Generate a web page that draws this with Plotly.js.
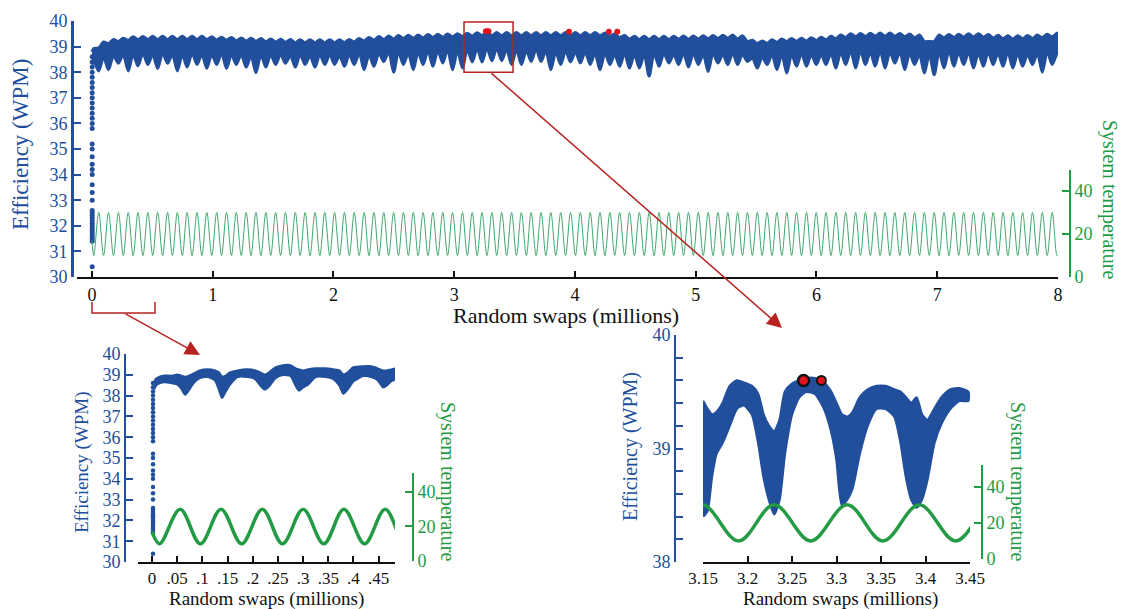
<!DOCTYPE html>
<html><head><meta charset="utf-8">
<script src="https://cdn.plot.ly/plotly-3.0.1.min.js"></script>
<style>html,body{margin:0;padding:0;background:#fff}#chart{width:1121px;height:609px}</style>
</head><body><div id="chart"></div>
<script>
// ---------------- DATA ----------------
// System temperature: extrema of the oscillation (millions of swaps, temperature)
const tempX = [0,
 0.015,0.056,0.096,0.137,0.178,0.219,0.259,0.300,0.341,0.381,
 0.422,0.463,0.503,0.544,0.585,0.626,0.666,0.707,0.748,0.788,
 0.829,0.870,0.910,0.951,0.992,1.033,1.073,1.114,1.155,1.195,
 1.236,1.277,1.317,1.358,1.399,1.440,1.480,1.521,1.562,1.602,
 1.643,1.684,1.724,1.765,1.806,1.847,1.887,1.928,1.969,2.009,
 2.050,2.091,2.131,2.172,2.213,2.254,2.294,2.335,2.376,2.416,
 2.457,2.498,2.538,2.579,2.620,2.661,2.701,2.742,2.783,2.823,
 2.864,2.905,2.945,2.986,3.027,3.068,3.108,3.149,3.190,3.230,
 3.271,3.312,3.352,3.393,3.434,3.475,3.515,3.556,3.597,3.637,
 3.678,3.719,3.759,3.800,3.841,3.882,3.922,3.963,4.004,4.044,
 4.085,4.126,4.166,4.207,4.248,4.289,4.329,4.370,4.411,4.451,
 4.492,4.533,4.573,4.614,4.655,4.696,4.736,4.777,4.818,4.858,
 4.899,4.940,4.980,5.021,5.062,5.103,5.143,5.184,5.225,5.265,
 5.306,5.347,5.387,5.428,5.469,5.510,5.550,5.591,5.632,5.672,
 5.713,5.754,5.794,5.835,5.876,5.917,5.957,5.998,6.039,6.079,
 6.120,6.161,6.201,6.242,6.283,6.324,6.364,6.405,6.446,6.486,
 6.527,6.568,6.608,6.649,6.690,6.731,6.771,6.812,6.853,6.893,
 6.934,6.975,7.015,7.056,7.097,7.138,7.178,7.219,7.260,7.300,
 7.341,7.382,7.422,7.463,7.504,7.545,7.585,7.626,7.667,7.707,
 7.748,7.789,7.829,7.870,7.911,7.952,7.992,
 8.0];
const tempY = [17,
 10,30,10,30,10,30,10,30,10,30,
 10,30,10,30,10,30,10,30,10,30,
 10,30,10,30,10,30,10,30,10,30,
 10,30,10,30,10,30,10,30,10,30,
 10,30,10,30,10,30,10,30,10,30,
 10,30,10,30,10,30,10,30,10,30,
 10,30,10,30,10,30,10,30,10,30,
 10,30,10,30,10,30,10,30,10,30,
 10,30,10,30,10,30,10,30,10,30,
 10,30,10,30,10,30,10,30,10,30,
 10,30,10,30,10,30,10,30,10,30,
 10,30,10,30,10,30,10,30,10,30,
 10,30,10,30,10,30,10,30,10,30,
 10,30,10,30,10,30,10,30,10,30,
 10,30,10,30,10,30,10,30,10,30,
 10,30,10,30,10,30,10,30,10,30,
 10,30,10,30,10,30,10,30,10,30,
 10,30,10,30,10,30,10,30,10,30,
 10,30,10,30,10,30,10,30,10,30,
 10,30,10,30,10,30,10,
 10.3];

// Efficiency, full run. Upper edge of the cloud at each temperature minimum
const effTopHi = [
 38.93,39.18,39.28,39.33,39.38,39.39,39.40,39.40,39.40,39.40,
 39.40,39.40,39.38,39.37,39.36,39.34,39.33,39.32,39.30,39.29,
 39.28,39.27,39.27,39.27,39.27,39.27,39.28,39.32,39.36,39.39,
 39.41,39.43,39.44,39.45,39.47,39.48,39.49,39.50,39.52,39.54,
 39.56,39.55,39.55,39.55,39.55,39.55,39.55,39.55,39.55,39.55,
 39.55,39.55,39.53,39.50,39.43,39.40,39.40,39.40,39.40,39.40,
 39.41,39.41,39.42,39.43,39.44,39.45,39.42,39.25,39.22,39.27,
 39.30,39.32,39.33,39.35,39.37,39.40,39.45,39.50,39.51,39.52,
 39.53,39.53,39.51,39.49,39.45,39.20,39.45,39.47,39.48,39.50,
 39.50,39.47,39.44,39.42,39.42,39.43,39.45,39.48,39.52];
// upper edge at each temperature maximum
const effTopLo = [
 38.95,39.12,39.20,39.24,39.27,39.28,39.28,39.28,39.28,39.28,
 39.28,39.28,39.26,39.25,39.23,39.22,39.21,39.19,39.18,39.17,
 39.15,39.15,39.15,39.15,39.15,39.16,39.18,39.22,39.26,39.28,
 39.30,39.32,39.33,39.34,39.36,39.37,39.38,39.39,39.41,39.43,
 39.43,39.43,39.43,39.43,39.43,39.43,39.43,39.43,39.43,39.43,
 39.43,39.42,39.40,39.35,39.30,39.28,39.28,39.28,39.28,39.29,
 39.29,39.30,39.31,39.32,39.33,39.30,39.20,39.12,39.13,39.17,
 39.20,39.21,39.22,39.24,39.27,39.31,39.36,39.39,39.40,39.41,
 39.41,39.40,39.38,39.35,39.20,39.20,39.34,39.36,39.37,39.38,
 39.37,39.34,39.31,39.30,39.31,39.32,39.35,39.38];
// lower edge of the cloud at each temperature minimum
const effGap = [
 38.45,38.6,38.65,38.7,38.7,38.75,38.7,38.75,38.7,38.7,
 38.75,38.7,38.7,38.75,38.7,38.7,38.65,38.7,38.7,38.7,
 38.65,38.7,38.65,38.7,38.7,38.65,38.7,38.75,38.7,38.75,
 38.8,38.8,38.75,38.8,38.85,38.85,38.9,38.85,38.9,38.95,
 38.95,38.95,38.9,38.9,38.85,38.9,38.85,38.8,38.85,38.8,
 38.8,38.75,38.75,38.7,38.75,38.7,38.7,38.75,38.75,38.7,
 38.75,38.75,38.7,38.75,38.7,38.75,38.7,38.55,38.6,38.7,
 38.7,38.7,38.75,38.7,38.7,38.75,38.8,38.85,38.85,38.8,
 38.85,38.8,38.8,38.75,38.7,38.7,38.8,38.85,38.8,38.8,
 38.75,38.8,38.75,38.8,38.75,38.7,38.75,38.8,38.75];
// bottom of each dip (at each temperature maximum)
const effDip = [
 38.05,38.1,38.35,38.05,38.25,38.3,38.15,38.35,38.05,38.2,
 38.3,38.15,38.3,38.15,38.3,38.2,37.98,38.2,38.3,38.35,
 38.2,38.3,38.2,38.3,38.3,38.23,38.3,38.1,38.23,38.42,
 38.0,38.3,38.1,38.3,38.23,38.36,38.1,38.16,38.4,38.4,
 38.45,38.45,38.3,38.3,38.42,38.42,38.1,38.3,38.4,38.36,
 38.3,38.1,38.3,38.23,38.16,38.16,37.85,38.23,38.36,38.3,
 38.2,38.3,38.03,38.36,38.3,38.3,38.42,38.16,38.3,38.1,
 37.97,38.23,38.23,38.3,38.3,38.16,38.3,38.16,38.3,38.23,
 38.16,38.36,38.1,38.3,37.97,37.9,38.16,38.23,38.3,38.16,
 38.23,38.3,38.23,38.16,38.23,38.3,38.0,38.3];
// the first samples, climbing at the very start
const effStartX = 0.002;
const effStartY = [30.4,31.4,31.5,31.6,31.7,31.8,31.9,32.0,32.1,32.2,32.3,32.4,32.5,32.6,33.0,33.3,33.6,34.0,34.2,34.4,34.7,35.0,35.2,35.8,36.0,36.2,36.4,36.6,36.8,37.0,37.2,37.4,37.6,37.8,38.0,38.2,38.4,38.6];
// best solutions found (red)
const bestX = [3.263,3.283,3.95,4.28,4.35];
const bestY = [39.6,39.6,39.58,39.58,39.58];

// Efficiency, first 0.5 million swaps
const effLeftX = [0.004,0.008,0.015,0.025,0.04,0.05,0.058,0.066,0.074,0.082,0.095,0.11,0.125,0.133,0.139,0.146,0.155,0.17,0.19,0.205,0.215,0.224,0.232,0.245,0.26,0.275,0.285,0.292,0.30,0.31,0.325,0.345,0.36,0.372,0.38,0.388,0.40,0.42,0.435,0.448,0.459,0.466,0.475,0.487];
const effLeftTop = [38.6,38.8,38.9,38.95,38.95,39.0,38.95,38.9,38.95,39.05,39.2,39.25,39.2,39.1,38.9,38.95,39.1,39.2,39.25,39.2,39.1,39.0,39.1,39.35,39.45,39.45,39.3,39.25,39.2,39.25,39.3,39.3,39.25,39.2,39.0,39.1,39.35,39.4,39.4,39.3,39.2,39.2,39.25,39.3];
const effLeftBot = [38.3,38.5,38.6,38.65,38.6,38.55,38.35,38.05,38.3,38.6,38.85,38.9,38.75,38.3,37.9,38.2,38.55,38.9,38.9,38.8,38.5,38.3,38.45,38.85,39.0,38.95,38.5,38.25,38.4,38.55,38.9,38.9,38.8,38.5,38.1,38.3,38.7,38.95,38.9,38.75,38.4,38.5,38.7,38.85];

// Efficiency, 3.15 - 3.45 million swaps
const effRightX = [3.150,3.155,3.160,3.165,3.172,3.180,3.188,3.196,3.205,3.212,3.218,3.224,3.230,3.236,3.242,3.250,3.258,3.266,3.276,3.286,3.294,3.300,3.306,3.312,3.318,3.326,3.335,3.345,3.355,3.365,3.372,3.378,3.384,3.390,3.396,3.402,3.410,3.418,3.428,3.438,3.448];
const effRightTop = [39.42,39.35,39.30,39.32,39.40,39.55,39.60,39.58,39.55,39.48,39.30,39.20,39.15,39.25,39.50,39.57,39.60,39.62,39.62,39.58,39.50,39.40,39.30,39.28,39.32,39.45,39.52,39.55,39.55,39.52,39.50,39.45,39.40,39.45,39.30,39.25,39.35,39.45,39.52,39.53,39.50];
const effRightBot = [38.40,38.45,38.75,38.95,39.05,39.20,39.35,39.38,39.30,39.05,38.75,38.55,38.42,38.55,38.95,39.30,39.45,39.50,39.48,39.35,39.15,38.90,38.50,38.55,38.65,38.95,39.20,39.35,39.35,39.28,39.05,38.75,38.55,38.48,38.55,38.72,39.05,39.22,39.35,39.42,39.42];

// x tick labels
const mainTicks = [0,1,2,3,4,5,6,7,8];
const leftTickVals = [0,0.05,0.1,0.15,0.2,0.25,0.3,0.35,0.4,0.45];
const leftTickText = ['0','.05','.1','.15','.2','.25','.3','.35','.4','.45'];
const rightTickVals = [3.15,3.2,3.25,3.3,3.35,3.4,3.45];
const rightTickText = ['3.15','3.2','3.25','3.3','3.35','3.4','3.45'];
const tempTicks = [0,20,40];

// ---------------- STYLE ----------------
const W = 1121, H = 609;
const px = p => p / W, py = p => 1 - p / H;
const FONT = 'Liberation Serif';
const BLUE = '#214f9c', GREEN = '#239b45', GREEN_THIN = '#3fa76c', RED = '#b8231f', BLACK = '#111';

// main cloud polygon: upper edge forward, lower edge back, both through the temperature extrema
const upX = [0], upY = [38.8], lowX = [0], lowY = [38.3];
for (let j = 1; j < tempX.length - 1; j++) {
  const i = j - 1, even = i % 2 === 0;
  upX.push(tempX[j]); lowX.push(tempX[j]);
  upY.push(even ? effTopHi[i / 2] : effTopLo[(i - 1) / 2]);
  lowY.push(even ? effGap[i / 2] : effDip[(i - 1) / 2]);
}
upX.push(8); upY.push(39.52); lowX.push(8); lowY.push(38.8);
const mainPolyX = upX.concat(lowX.slice().reverse());
const mainPolyY = upY.concat(lowY.slice().reverse());

const leftPolyX = effLeftX.concat(effLeftX.slice().reverse());
const leftPolyY = effLeftTop.concat(effLeftBot.slice().reverse());
const rightPolyX = effRightX.concat(effRightX.slice().reverse());
const rightPolyY = effRightTop.concat(effRightBot.slice().reverse());
const startXs = effStartY.map(() => effStartX);

const traces = [
  // main
  {x: tempX, y: tempY, xaxis: 'x', yaxis: 'y2', mode: 'lines', line: {color: GREEN_THIN, width: 1, shape: 'spline'}},
  {x: mainPolyX, y: mainPolyY, xaxis: 'x', yaxis: 'y', mode: 'lines', fill: 'toself', fillcolor: BLUE, line: {color: BLUE, width: 3, shape: 'spline', smoothing: 0.8}},
  {x: startXs, y: effStartY, xaxis: 'x', yaxis: 'y', mode: 'markers', marker: {color: BLUE, size: 5}},
  {x: bestX, y: bestY, xaxis: 'x', yaxis: 'y', mode: 'markers', marker: {color: '#e0141c', size: 6}},
  // left inset
  {x: tempX, y: tempY, xaxis: 'x2', yaxis: 'y4', mode: 'lines', line: {color: GREEN, width: 3.5, shape: 'spline'}},
  {x: leftPolyX, y: leftPolyY, xaxis: 'x2', yaxis: 'y3', mode: 'lines', fill: 'toself', fillcolor: BLUE, line: {color: BLUE, width: 2.5, shape: 'spline', smoothing: 0.6}},
  {x: startXs, y: effStartY, xaxis: 'x2', yaxis: 'y3', mode: 'markers', marker: {color: BLUE, size: 4.5}},
  // right inset
  {x: tempX, y: tempY, xaxis: 'x3', yaxis: 'y6', mode: 'lines', line: {color: GREEN, width: 3.5, shape: 'spline'}},
  {x: rightPolyX, y: rightPolyY, xaxis: 'x3', yaxis: 'y5', mode: 'lines', fill: 'toself', fillcolor: BLUE, line: {color: BLUE, width: 2.5, shape: 'spline', smoothing: 0.6}},
  {x: bestX.slice(0, 1), y: bestY.slice(0, 1), xaxis: 'x3', yaxis: 'y5', mode: 'markers', marker: {color: '#e0141c', size: 11, line: {color: '#111', width: 2.5}}},
  {x: bestX.slice(1, 2), y: bestY.slice(1, 2), xaxis: 'x3', yaxis: 'y5', mode: 'markers', marker: {color: '#e0141c', size: 9, line: {color: '#111', width: 2}}}
];

function ax(extra, color) {
  return Object.assign({
    showgrid: false, zeroline: false, showline: true, linecolor: color, linewidth: 2,
    ticks: 'inside', ticklen: 7, tickwidth: 2, tickcolor: color,
    tickfont: {family: FONT, size: 18, color: color}, fixedrange: true
  }, extra);
}

function label(x, y, text, size, color, angle) {
  return {x: px(x), y: py(y), xref: 'paper', yref: 'paper', xanchor: 'center', yanchor: 'middle',
    text: text, textangle: angle || 0, showarrow: false, font: {family: FONT, size: size, color: color}};
}

const layout = {
  width: W, height: H, margin: {l: 0, r: 0, t: 0, b: 0}, showlegend: false,
  paper_bgcolor: '#fff', plot_bgcolor: 'rgba(0,0,0,0)', font: {family: FONT, size: 18},
  xaxis: ax({domain: [px(77), px(1058)], range: [-0.124, 8], anchor: 'y', tickvals: mainTicks, ticklen: 6}, BLACK),
  yaxis: ax({domain: [py(277), py(21)], range: [30, 40], anchor: 'free', position: px(72), dtick: 1, linewidth: 2.5}, BLUE),
  yaxis2: ax({domain: [py(277), py(170)], range: [0, 49.8], anchor: 'free', position: px(1070), side: 'right', tickvals: tempTicks}, GREEN),
  xaxis2: ax({domain: [px(138), px(395)], range: [-0.0278, 0.4824], anchor: 'y3', tickvals: leftTickVals, ticktext: leftTickText, ticklen: 6,
    tickfont: {family: FONT, size: 17, color: BLACK}}, BLACK),
  yaxis3: ax({domain: [py(562), py(354)], range: [30, 40], anchor: 'free', position: px(125), dtick: 1}, BLUE),
  yaxis4: ax({domain: [py(561), py(473)], range: [0, 51], anchor: 'free', position: px(413), side: 'right', tickvals: tempTicks}, GREEN),
  xaxis3: ax({domain: [px(703), px(970)], range: [3.15, 3.45], anchor: 'y5', tickvals: rightTickVals, ticktext: rightTickText, ticklen: 6,
    tickfont: {family: FONT, size: 17, color: BLACK}}, BLACK),
  yaxis5: ax({domain: [py(562), py(335)], range: [38, 40], anchor: 'free', position: px(675), tickvals: [38, 39, 40],
    minor: {dtick: 0.2, ticks: 'inside', ticklen: 7, tickwidth: 2, tickcolor: BLUE, showgrid: false}}, BLUE),
  yaxis6: ax({domain: [py(559), py(465)], range: [0, 52], anchor: 'free', position: px(982), side: 'right', tickvals: tempTicks}, GREEN),
  shapes: [
    {type: 'rect', xref: 'x', yref: 'y', x0: 3.081, x1: 3.487, y0: 38.0, y1: 39.96, line: {color: RED, width: 1.5}},
    {type: 'path', xref: 'paper', yref: 'paper',
     path: `M ${px(92)} ${py(302)} L ${px(92)} ${py(313)} L ${px(155)} ${py(313)} L ${px(155)} ${py(302)}`,
     line: {color: RED, width: 1.5}}
  ],
  annotations: [
    {x: px(200), y: py(355), xref: 'paper', yref: 'paper', ax: -76, ay: -42, axref: 'pixel', ayref: 'pixel', text: '',
     showarrow: true, arrowhead: 2, arrowsize: 2, arrowwidth: 1.5, arrowcolor: RED},
    {x: px(782), y: py(328), xref: 'paper', yref: 'paper', ax: -292, ay: -256, axref: 'pixel', ayref: 'pixel', text: '',
     showarrow: true, arrowhead: 2, arrowsize: 2, arrowwidth: 1.5, arrowcolor: RED},
    label(20, 145, 'Efficiency (WPM)', 23, BLUE, -90),
    label(566, 315, 'Random swaps (millions)', 22, BLACK),
    label(1110, 200, 'System temperature', 20, GREEN, 90),
    label(82, 462, 'Efficiency (WPM)', 19, BLUE, -90),
    label(448, 482, 'System temperature', 20, GREEN, 90),
    label(266, 599, 'Random swaps (millions)', 19, BLACK),
    label(630, 447, 'Efficiency (WPM)', 20, BLUE, -90),
    label(1018, 482, 'System temperature', 20, GREEN, 90),
    label(840, 599, 'Random swaps (millions)', 19, BLACK)
  ]
};

Plotly.newPlot('chart', traces, layout, {staticPlot: true, displayModeBar: false});
</script>
</body></html>
